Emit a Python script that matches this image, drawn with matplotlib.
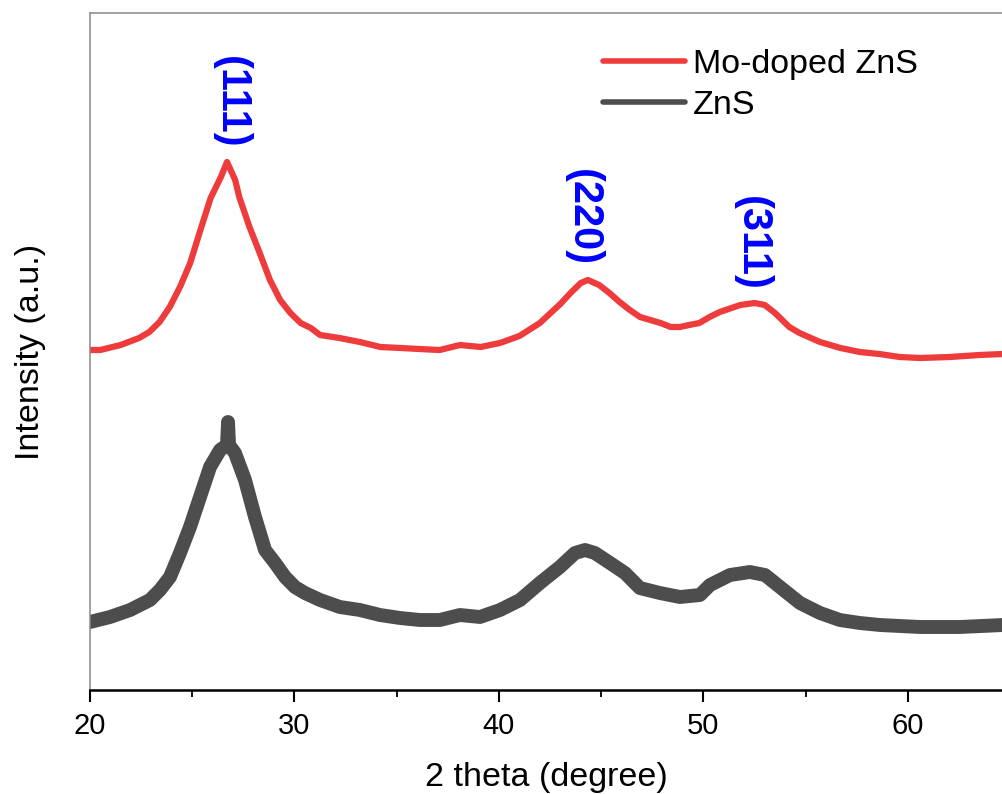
import matplotlib
matplotlib.use("Agg")
import matplotlib.pyplot as plt
from matplotlib.ticker import MultipleLocator

plt.rcParams['font.family'] = ['Liberation Sans', 'DejaVu Sans']

# Mo-doped ZnS pattern (2 theta, intensity a.u.)
theta_mo = [20.0, 20.5, 21.5, 22.4, 22.9, 23.4, 23.9, 24.4, 24.9, 25.4, 25.9, 26.4,
            26.7, 27.1, 27.3, 27.8, 28.3, 28.8, 29.3, 29.8, 30.3, 30.8, 31.25, 32.2,
            33.2, 34.2, 35.2, 36.1, 37.1, 38.1, 39.1, 40.05, 41.0, 42.0, 43.0, 43.5,
            44.0, 44.35, 44.9, 45.4, 45.9, 46.4, 46.9, 47.9, 48.4, 48.85, 49.3, 49.8,
            50.3, 50.8, 51.8, 52.5, 53.0, 53.5, 54.2, 54.7, 55.7, 56.7, 57.65, 58.6,
            59.6, 60.6, 62.05, 63.5, 64.65]
int_mo = [340, 340, 345, 352, 358, 368, 383, 403, 427, 460, 492, 513,
          528, 510, 493, 463, 437, 410, 390, 377, 367, 362, 355, 352,
          348, 343, 342, 341, 340, 345, 343, 347, 354, 367, 386, 397,
          407, 410, 405, 397, 388, 380, 373, 367, 363, 363, 365, 367,
          373, 378, 385, 387, 385, 377, 363, 357, 348, 342, 338, 336,
          333, 332, 333, 335, 336]

# undoped ZnS pattern
theta_zns = [20.0, 20.98, 21.96, 22.93, 23.42, 23.91, 24.40, 24.89, 25.38, 25.87, 26.36,
             26.70, 26.75, 26.8, 27.09, 27.58, 28.07, 28.56, 29.05, 29.54, 30.02, 30.51,
             31.25, 32.22, 33.20, 34.18, 35.16, 36.14, 37.11, 38.09, 39.07, 40.05, 41.03,
             42.00, 42.98, 43.72, 44.21, 44.69, 45.43, 46.16, 46.89, 47.87, 48.85, 49.83,
             50.32, 51.30, 52.27, 53.01, 53.74, 54.72, 55.70, 56.67, 57.65, 58.63, 60.59,
             62.54, 64.65]
int_zns = [68, 73, 80, 90, 100, 113, 137, 163, 193, 223, 240,
           245, 268, 245, 237, 210, 173, 140, 127, 113, 103, 97,
           90, 83, 80, 75, 72, 70, 70, 75, 73, 80, 90,
           107, 123, 137, 140, 137, 127, 117, 102, 97, 93, 95,
           105, 115, 118, 115, 103, 87, 77, 70, 67, 65, 63,
           63, 65]

peak_labels = ["(111)", "(220)", "(311)"]
peak_x = [26.9, 44.1, 52.37]
peak_y = [588, 472, 447]

fig = plt.figure(figsize=(10.03, 7.94), dpi=100)
ax = fig.add_axes([90/1003, 104/794, 1 - 90/1003, 677/794])

ax.plot(theta_mo, int_mo, color='#EE3B3B', lw=4.5, solid_joinstyle='round',
        solid_capstyle='round', label='Mo-doped ZnS')
ax.plot(theta_zns, int_zns, color='#4D4D4D', lw=10, solid_joinstyle='round',
        solid_capstyle='round', label='ZnS')

for lab, x, y in zip(peak_labels, peak_x, peak_y):
    ax.text(x, y, lab, rotation=270, ha='center', va='center', color='#0000FF',
            fontsize=30, fontweight='bold')

ax.set_xlim(20, 64.65)
ax.set_ylim(0, 677)
ax.xaxis.set_major_locator(MultipleLocator(10))
ax.xaxis.set_minor_locator(MultipleLocator(5))
ax.set_yticks([])
ax.tick_params(axis='x', which='major', length=8.6, width=1.5, direction='out',
               labelsize=21, pad=7, color='black')
ax.tick_params(axis='x', which='minor', length=5, width=1.3, direction='out')

ax.spines['right'].set_visible(False)
ax.spines['bottom'].set_linewidth(1.8)
ax.spines['bottom'].set_color('black')
for s in ['left', 'top']:
    ax.spines[s].set_color('#888888')
    ax.spines[s].set_linewidth(1.1)

ax.set_xlabel('2 theta (degree)', fontsize=24.5, labelpad=16)
ax.set_ylabel('Intensity (a.u.)', fontsize=24.5, labelpad=32)

leg = ax.legend(loc='upper left', bbox_to_anchor=(603/1003, 1 - 49/794),
                bbox_transform=fig.transFigure, frameon=False, fontsize=24.5,
                handlelength=2.4, handletextpad=0.25, labelspacing=0.3,
                borderpad=0, borderaxespad=0)
for line in leg.get_lines():
    line.set_linewidth(4)

fig.savefig('out.png', dpi=100)
